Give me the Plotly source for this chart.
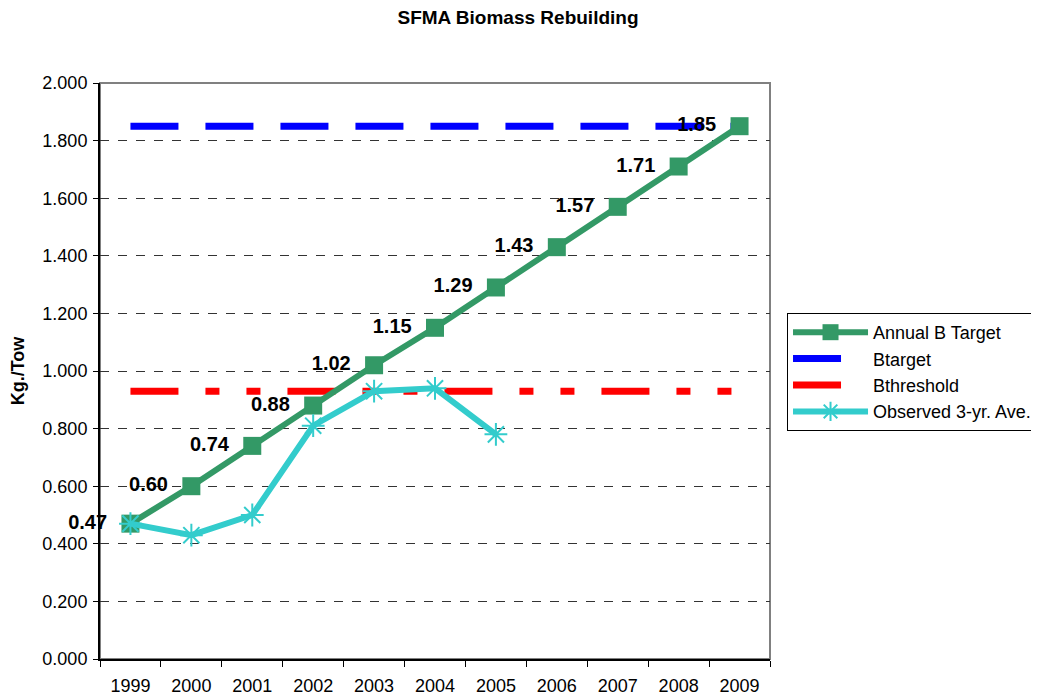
import plotly.graph_objects as go

years = ["1999", "2000", "2001", "2002", "2003", "2004", "2005", "2006", "2007", "2008", "2009"]
annual_target = [0.47, 0.60, 0.74, 0.88, 1.02, 1.15, 1.29, 1.43, 1.57, 1.71, 1.85]
btarget = [1.85, 1.85, 1.85, 1.85, 1.85, 1.85, 1.85, 1.85, 1.85, 1.85, 1.85]
bthreshold = [0.93, 0.93, 0.93, 0.93, 0.93, 0.93, 0.93, 0.93, 0.93, 0.93, 0.93]
obs_years = ["1999", "2000", "2001", "2002", "2003", "2004", "2005"]
observed = [0.47, 0.43, 0.50, 0.81, 0.93, 0.94, 0.78]
y_ticks = [0, 0.2, 0.4, 0.6, 0.8, 1.0, 1.2, 1.4, 1.6, 1.8, 2.0]

FONT = "Liberation Sans, Arial, sans-serif"
GREEN = "#339966"
CYAN = "#33CCCC"
NB = "\u00a0"

# the page body adds an 8px offset; compensate in margins
W, H = 1039, 696
OFF = 8

fig = go.Figure()
fig.add_trace(go.Scatter(
    x=years, y=btarget, mode="lines", name="Btarget", legendrank=2,
    line=dict(color="#0000FF", width=7, dash="48px,27px"),
))
fig.add_trace(go.Scatter(
    x=years, y=bthreshold, mode="lines", name="Bthreshold", legendrank=3,
    line=dict(color="#FF0000", width=7, dash="48px,27px,14px,27px,14px,27px"),
))
fig.add_trace(go.Scatter(
    x=years, y=annual_target, mode="lines+markers+text", name="Annual B Target", legendrank=1,
    line=dict(color=GREEN, width=6),
    marker=dict(symbol="square", size=18, color=GREEN),
    text=[f"{v:.2f}{NB}{NB}" for v in annual_target], textposition="middle left",
    textfont=dict(family=FONT, size=20, color="black", weight="bold"),
    cliponaxis=False,
))
fig.add_trace(go.Scatter(
    x=obs_years, y=observed, mode="lines+markers", name="Observed 3-yr. Ave.", legendrank=4,
    line=dict(color=CYAN, width=6),
    marker=dict(symbol="asterisk-open", size=19, color=CYAN, line=dict(color=CYAN, width=2)),
    cliponaxis=False,
))

fig.update_layout(
    width=W, height=H,
    margin=dict(l=100 - OFF, r=W - (770 - OFF), t=83 - OFF, b=H - (659 - OFF), autoexpand=False),
    paper_bgcolor="white", plot_bgcolor="white",
    font=dict(family=FONT, size=18, color="black"),
    title=dict(text="<b>SFMA Biomass Rebuilding</b>", x=(518 - OFF) / W, xref="container", xanchor="center",
               y=1 - (17 - OFF) / H, yref="container", yanchor="middle",
               font=dict(family=FONT, size=19, color="black")),
    showlegend=True,
    legend=dict(x=1.0254, y=0.6007, xanchor="left", yanchor="top",
                bgcolor="white", bordercolor="black", borderwidth=1,
                font=dict(family=FONT, size=18, color="black"),
                itemwidth=75, tracegroupgap=1),
    shapes=[dict(type="rect", xref="paper", yref="paper", x0=0, x1=1, y0=0, y1=1,
                 line=dict(color="#808080", width=2), fillcolor="rgba(0,0,0,0)", layer="below")],
)
fig.update_xaxes(
    type="category", range=[-0.5, 10.5], tickson="boundaries",
    ticks="outside", ticklen=6, tickcolor="black",
    showline=True, linecolor="black", linewidth=2, showgrid=False,
    tickfont=dict(family=FONT, size=18), ticklabelstandoff=9, automargin=False,
)
fig.update_yaxes(
    range=[0, 2.0], tickvals=y_ticks, tickformat=".3f",
    ticks="outside", ticklen=5, tickcolor="black",
    showline=True, linecolor="black", linewidth=2,
    showgrid=True, gridcolor="#333333", gridwidth=1, griddash="dash",
    zeroline=False, automargin=False,
    tickfont=dict(family=FONT, size=18), ticklabelstandoff=2,
    title=dict(text="<b>Kg./Tow</b>", font=dict(family=FONT, size=18), standoff=20),
)

fig.write_html("out.html")
